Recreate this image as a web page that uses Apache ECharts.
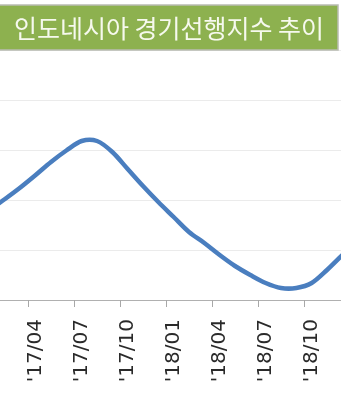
<!DOCTYPE html>
<html>
<head>
<meta charset="utf-8">
<script src="https://cdn.jsdelivr.net/npm/echarts@6/dist/echarts.min.js"></script>
<style>
html,body{margin:0;padding:0;width:341px;height:400px;overflow:hidden;background:#fff;}
#c{position:absolute;left:-100px;top:0;width:500px;height:400px;}
</style>
</head>
<body>
<div id="c"></div>
<script>
const titleText = "인도네시아 경기선행지수 추이";
const months = ["'17/01","'17/02","'17/03","'17/04","'17/05","'17/06","'17/07","'17/08","'17/09","'17/10","'17/11","'17/12",
                "'18/01","'18/02","'18/03","'18/04","'18/05","'18/06","'18/07","'18/08","'18/09","'18/10","'18/11","'18/12"];
const leadingIndex = [99.40,99.51,99.625,99.75,99.88,99.995,100.09,100.09,99.98,99.81,99.64,99.48,
                      99.33,99.18,99.07,98.95,98.84,98.75,98.67,98.62,98.62,98.67,98.80,98.95];
const yMin = 98.5, yMax = 101.0, yStep = 0.5;

// Excel-like smoothed line (Catmull-Rom Bezier through every data point, positioned by the axes)
function renderSmoothLine(params, api) {
  if (params.dataIndex !== 0) return null;
  const pts = leadingIndex.map((v, i) => api.coord([i, v]));
  const n = pts.length;
  let d = 'M' + pts[0][0] + ' ' + pts[0][1];
  for (let i = 0; i < n - 1; i++) {
    const p0 = pts[Math.max(i - 1, 0)], p1 = pts[i], p2 = pts[i + 1], p3 = pts[Math.min(i + 2, n - 1)];
    const c1x = p1[0] + (p2[0] - p0[0]) / 6, c1y = p1[1] + (p2[1] - p0[1]) / 6;
    const c2x = p2[0] - (p3[0] - p1[0]) / 6, c2y = p2[1] - (p3[1] - p1[1]) / 6;
    d += ' C' + c1x + ' ' + c1y + ' ' + c2x + ' ' + c2y + ' ' + p2[0] + ' ' + p2[1];
  }
  return {
    type: 'path',
    shape: { pathData: d },
    style: { fill: 'none', stroke: '#4a7ebf', lineWidth: 4.5, lineJoin: 'round', lineCap: 'round' }
  };
}

const chart = echarts.init(document.getElementById('c'));
chart.setOption({
  animation:false,
  grid:{left:82, width:368, top:50, bottom:100},
  xAxis:{
    type:'category', data:months, boundaryGap:true,
    axisLine:{lineStyle:{color:'#b0b0b0', width:1}},
    axisTick:{show:true, interval:2, length:7, lineStyle:{color:'#a8a8a8', width:1}},
    axisLabel:{interval:2, rotate:90, margin:19, fontSize:20, fontFamily:'DejaVu Sans', color:'#2a2a2a'}
  },
  yAxis:{
    type:'value', min:yMin, max:yMax, interval:yStep,
    axisLine:{show:false}, axisTick:{show:false}, axisLabel:{show:false},
    splitLine:{lineStyle:{color:'#ebebeb', width:1}}
  },
  series:[{
    type:'custom', name:'경기선행지수',
    data: leadingIndex.map((v, i) => [i, v]),
    encode:{x:0, y:1},
    renderItem: renderSmoothLine,
    clip:false
  }],
  graphic:[
    {type:'rect', shape:{x:90, y:5, width:348, height:45}, style:{fill:'#8db14f', stroke:'#b9bcb2', lineWidth:1.5}, z:100},
    {type:'text', x:269, y:28, style:{text:titleText, fontSize:25, fontFamily:'Noto Sans CJK KR', fill:'#f6f9ee', textAlign:'center', textVerticalAlign:'middle'}, z:101}
  ]
});
</script>
</body>
</html>
